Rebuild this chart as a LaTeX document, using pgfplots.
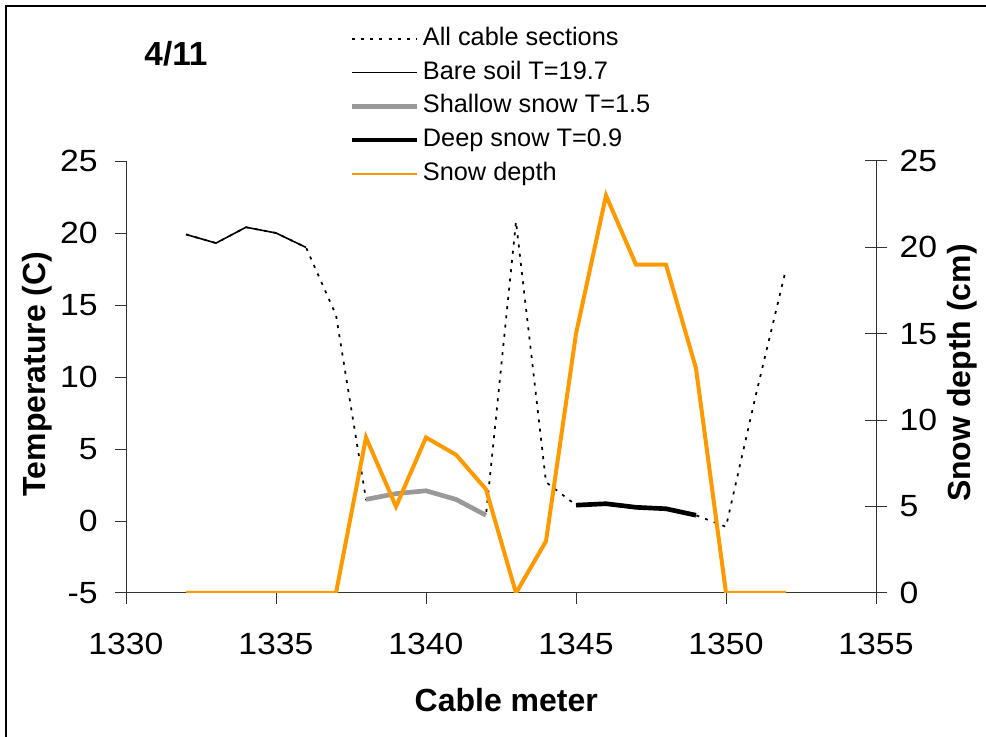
\documentclass[border=0pt]{standalone}
\usepackage{fontspec}
\setmainfont{Liberation Sans}
\newfontfamily\tickfont{Liberation Sans}[FakeStretch=1.1]
\usepackage{pgfplots}
\pgfplotsset{compat=1.18}
\definecolor{snoworange}{RGB}{255,153,0}
\definecolor{shallowgray}{RGB}{153,153,153}
\begin{document}
\begin{tikzpicture}
\useasboundingbox (0,0) rectangle (739.5pt,552pt);
\draw[line width=1.1pt] (4.5pt,-10pt) -- (4.5pt,547.5pt) -- (760pt,547.5pt);
\node[font=\fontsize{25}{25}\selectfont\bfseries] at (132pt,512pt) {4/11};
\begin{axis}[
  at={(94.5pt,107.25pt)}, anchor=south west,
  scale only axis, width=562.5pt, height=324pt,
  xmin=1330, xmax=1355, ymin=-5, ymax=25,
  axis x line*=bottom, axis y line*=left,
  xtick={1330,1335,...,1355}, ytick={-5,0,...,25},
  minor tick num=0,
  tick align=outside, major tick length=8pt,
  axis line style={line width=0.75pt, black!80, -},
  tick style={line width=0.75pt, black!80},
  /pgf/number format/assume math mode=true,
  /pgf/number format/1000 sep={},
  ticklabel style={font=\tickfont\fontsize{23}{23}\selectfont, inner sep=0pt},
  xticklabel style={anchor=north, yshift=-22pt},
  yticklabel style={anchor=east, xshift=-13pt},
  xlabel={Cable meter}, ylabel={Temperature (C)},
  label style={font=\fontsize{24}{24}\selectfont\bfseries},
  xlabel style={at={(axis description cs:0.507,-0.248)}, anchor=center},
  ylabel style={at={(axis description cs:-0.1187,0.507)}, anchor=center},
  legend style={at={(axis description cs:0.2973,1.3125)}, anchor=north west,
    draw=none, fill=none, inner sep=0pt, row sep=6.3pt,
    font=\fontsize{19}{19}\selectfont,
    nodes={inner sep=0pt, text height=14.25pt, text depth=4.75pt},
    /tikz/every odd column/.append style={column sep=3pt}},
  legend cell align=left,
  legend image code/.code={\draw[#1] (0pt,0pt) -- (48.75pt,0pt);},
]
\addplot[black, line width=1.3pt, dash pattern=on 2.25pt off 4.7pt] coordinates {
(1332,19.9) (1333,19.3) (1334,20.4) (1335,20.0) (1336,19.0) (1337,14.3)
(1338,1.5) (1339,1.9) (1340,2.1) (1341,1.5) (1342,0.4) (1343,20.8)
(1344,2.7) (1345,1.1) (1346,1.2) (1347,0.95) (1348,0.85) (1349,0.4)
(1350,-0.4) (1351,8.8) (1352,17.5)};
\addlegendentry{All cable sections}
\addplot[black, line width=1.2pt] coordinates {
(1332,19.9) (1333,19.3) (1334,20.4) (1335,20.0) (1336,19.0)};
\addlegendentry{Bare soil T=19.7}
\addplot[shallowgray, line width=3.5pt] coordinates {
(1338,1.5) (1339,1.9) (1340,2.1) (1341,1.5) (1342,0.4)};
\addlegendentry{Shallow snow T=1.5}
\addplot[black, line width=3.5pt] coordinates {
(1345,1.1) (1346,1.2) (1347,0.95) (1348,0.85) (1349,0.4)};
\addlegendentry{Deep snow T=0.9}
\addlegendimage{snoworange, line width=2pt}
\addlegendentry{Snow depth}
\end{axis}
\begin{axis}[
  at={(94.5pt,107.25pt)}, anchor=south west,
  scale only axis, width=562.5pt, height=324pt,
  xmin=1330, xmax=1355, ymin=0, ymax=25,
  axis x line=none, axis y line*=right,
  ytick={0,5,...,25}, minor tick num=0,
  tick align=center, major tick length=17pt,
  axis line style={line width=0.75pt, black!80, -},
  tick style={line width=0.75pt, black!80},
  /pgf/number format/assume math mode=true,
  ticklabel style={font=\tickfont\fontsize{23}{23}\selectfont, inner sep=0pt},
  yticklabel style={anchor=west, xshift=9pt},
  ylabel={Snow depth (cm)},
  label style={font=\fontsize{24}{24}\selectfont\bfseries},
  ylabel style={at={(axis description cs:1.1147,0.509)}, anchor=center, rotate=0},
]
\addplot[snoworange, line width=3pt] coordinates {
(1332,0) (1333,0) (1334,0) (1335,0) (1336,0) (1337,0)
(1338,9) (1339,5) (1340,9) (1341,8) (1342,6) (1343,0)
(1344,3) (1345,15) (1346,23) (1347,19) (1348,19) (1349,13)
(1350,0) (1351,0) (1352,0)};
\end{axis}
\end{tikzpicture}
\end{document}
